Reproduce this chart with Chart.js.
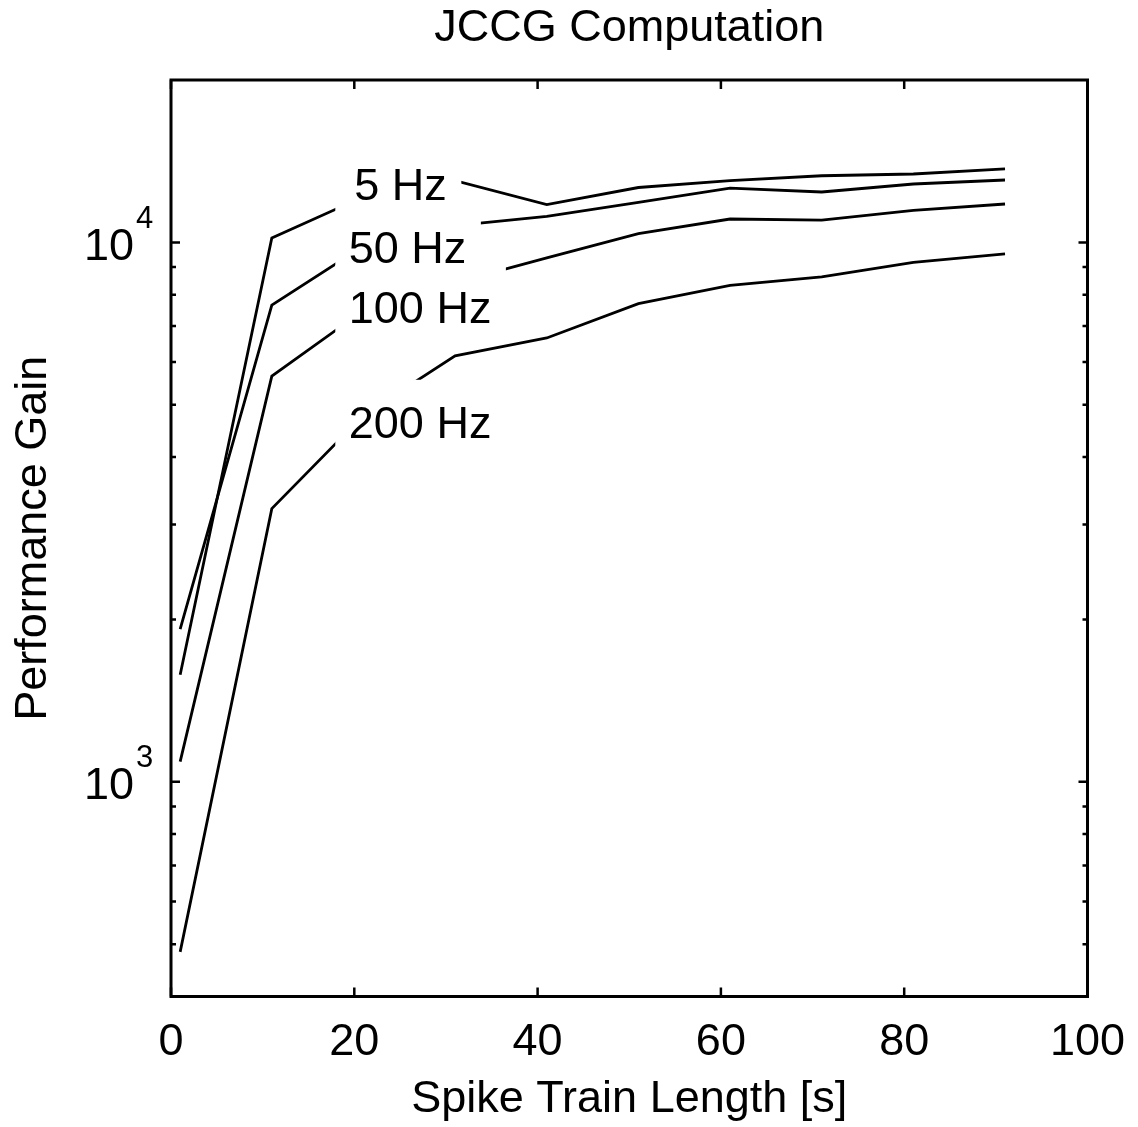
<!DOCTYPE html>
<html>
<head>
<meta charset="utf-8">
<script src="https://cdn.jsdelivr.net/npm/chart.js@4.4.1/dist/chart.umd.min.js"></script>
<style>
html, body { margin: 0; padding: 0; background: #fff; }
#wrap { width: 1138px; height: 1127px; position: relative; }
</style>
</head>
<body>
<div id="wrap"><canvas id="c"></canvas></div>
<script>
// ---- data ----
const lengths   = [1, 11, 21, 31, 41, 51, 61, 71, 81, 91];
const gain5Hz   = [1580, 10190, 12150, 13020, 11750, 12640, 13020, 13290, 13390, 13690];
const gain50Hz  = [1920, 7650, 9840, 10740, 11170, 11860, 12610, 12400, 12830, 13050];
const gain100Hz = [1090, 5650, 7480, 8420, 9360, 10380, 11050, 11000, 11460, 11780];
const gain200Hz = [484, 3210, 4780, 6160, 6650, 7700, 8320, 8630, 9180, 9520];
const seriesNames = ['5 Hz', '50 Hz', '100 Hz', '200 Hz'];
const seriesValues = [gain5Hz, gain50Hz, gain100Hz, gain200Hz];
const xTickValues = [0, 20, 40, 60, 80, 100];
const yMajorTicks = [1000, 10000];
const yMinorTicks = [400, 500, 600, 700, 800, 900, 2000, 3000, 4000, 5000, 6000, 7000, 8000, 9000];
// inline label anchors (data units: x = left edge of text, y = baseline)
const labelAnchorX = [20.0, 19.4, 19.4, 19.4];
const labelAnchorY = [11960, 9160, 7090, 4343];

const FONT = '"Liberation Sans", Arial, Helvetica, sans-serif';
Chart.defaults.font.family = FONT;
Chart.defaults.color = '#000';

const matlabAxes = {
  id: 'matlabAxes',
  afterDatasetsDraw(chart) {
    const { ctx, scales: { x, y } } = chart;
    ctx.save();
    ctx.font = '45px ' + FONT;
    ctx.textBaseline = 'alphabetic';
    ctx.textAlign = 'left';
    seriesNames.forEach((name, i) => {
      const px = x.getPixelForValue(labelAnchorX[i]);
      const py = y.getPixelForValue(labelAnchorY[i]);
      const w = ctx.measureText(name).width;
      ctx.fillStyle = '#fff';
      ctx.fillRect(px - 13.5, py - 58, w + 28, 68);
      ctx.fillStyle = '#000';
      ctx.fillText(name, px, py);
    });
    ctx.restore();
  },
  afterDraw(chart) {
    const { ctx, chartArea: a, scales: { x, y } } = chart;
    ctx.save();
    ctx.strokeStyle = '#000';
    ctx.lineWidth = 3;
    ctx.strokeRect(a.left, a.top, a.right - a.left, a.bottom - a.top);
    ctx.lineWidth = 2.5;
    ctx.beginPath();
    xTickValues.forEach(v => {
      const px = x.getPixelForValue(v);
      ctx.moveTo(px, a.bottom); ctx.lineTo(px, a.bottom - 9);
      ctx.moveTo(px, a.top); ctx.lineTo(px, a.top + 9);
    });
    yMajorTicks.forEach(v => {
      const py = y.getPixelForValue(v);
      ctx.moveTo(a.left, py); ctx.lineTo(a.left + 9, py);
      ctx.moveTo(a.right, py); ctx.lineTo(a.right - 9, py);
    });
    yMinorTicks.forEach(v => {
      const py = y.getPixelForValue(v);
      ctx.moveTo(a.left, py); ctx.lineTo(a.left + 5, py);
      ctx.moveTo(a.right, py); ctx.lineTo(a.right - 5, py);
    });
    ctx.stroke();
    // y tick labels 10^n
    ctx.fillStyle = '#000';
    ctx.textBaseline = 'alphabetic';
    yMajorTicks.forEach(v => {
      const py = y.getPixelForValue(v);
      ctx.font = '45px ' + FONT;
      ctx.textAlign = 'right';
      ctx.fillText('10', 134, py + 17.3);
      ctx.font = '31px ' + FONT;
      ctx.textAlign = 'left';
      ctx.fillText(String(Math.round(Math.log10(v))), 136, py - 14.5);
    });
    ctx.restore();
  }
};

const datasets = seriesNames.map((name, i) => ({
  label: name,
  data: lengths.map((len, j) => ({ x: len, y: seriesValues[i][j] })),
  borderColor: '#000',
  borderWidth: 2.8,
  pointRadius: 0,
  fill: false,
  tension: 0
}));

new Chart(document.getElementById('c'), {
  type: 'line',
  data: { datasets },
  plugins: [matlabAxes],
  options: {
    responsive: true,
    maintainAspectRatio: false,
    animation: false,
    layout: { padding: { left: 0, right: 50.5, top: 0, bottom: 0 } },
    plugins: {
      legend: { display: false },
      tooltip: { enabled: false },
      title: {
        display: true,
        text: 'JCCG Computation',
        fullSize: false,
        color: '#000',
        font: { size: 45, weight: 'normal' },
        padding: { top: 2, bottom: 24 }
      }
    },
    scales: {
      x: {
        type: 'linear',
        min: 0, max: 100,
        ticks: { stepSize: 20, color: '#000', font: { size: 45 }, padding: 19, maxRotation: 0, autoSkip: false },
        grid: { display: false, drawTicks: false },
        border: { display: false },
        title: { display: true, text: 'Spike Train Length [s]', color: '#000', font: { size: 45 }, padding: { top: 0, bottom: 0 } },
        afterFit: s => { s.height = 130.5; s.paddingLeft = 0; s.paddingRight = 0; }
      },
      y: {
        type: 'logarithmic',
        min: 400, max: 20000,
        ticks: { display: false },
        grid: { display: false, drawTicks: false },
        border: { display: false },
        title: { display: true, text: 'Performance Gain', color: '#000', font: { size: 45 }, padding: { top: 7, bottom: 0 } },
        afterFit: s => { s.width = 171; s.paddingTop = 0; s.paddingBottom = 0; }
      }
    }
  }
});
</script>
</body>
</html>
